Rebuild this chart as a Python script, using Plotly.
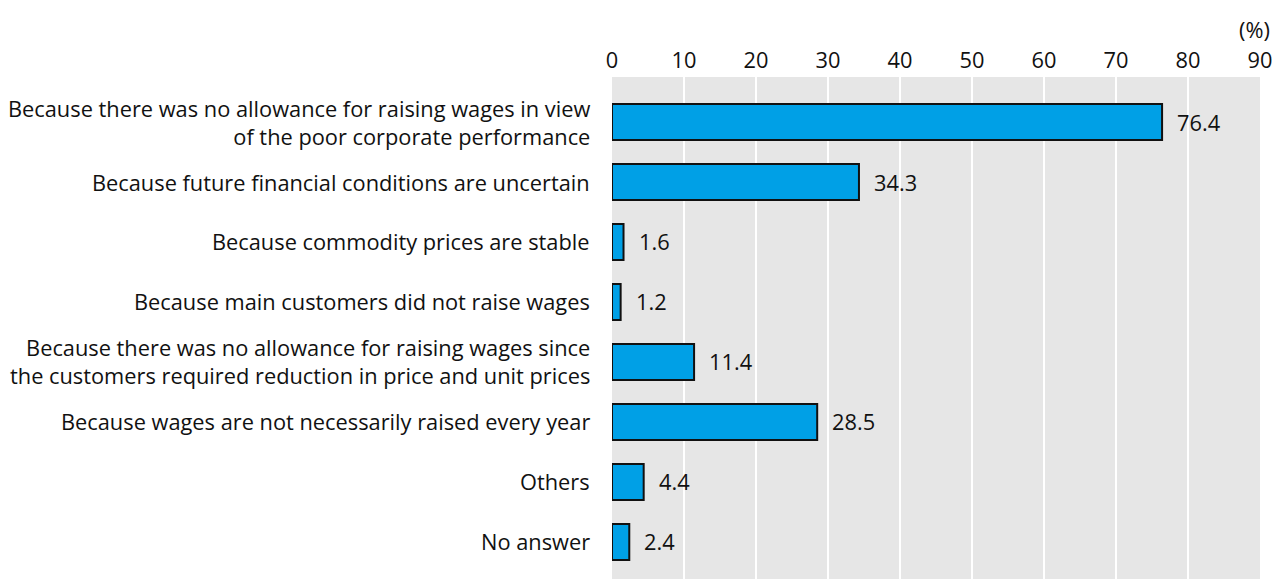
import plotly.graph_objects as go

# Survey: reasons for not raising wages (%)
categories = [
    "Because there was no allowance for raising wages in view\nof the poor corporate performance",
    "Because future financial conditions are uncertain",
    "Because commodity prices are stable",
    "Because main customers did not raise wages",
    "Because there was no allowance for raising wages since\nthe customers required reduction in price and unit prices",
    "Because wages are not necessarily raised every year",
    "Others",
    "No answer",
]
values = [76.4, 34.3, 1.6, 1.2, 11.4, 28.5, 4.4, 2.4]
x_ticks = [0, 10, 20, 30, 40, 50, 60, 70, 80, 90]

FONT = "Open Sans"
FONT_SIZE = 21.8
TEXT_COLOR = "#111111"

fig = go.Figure(
    go.Bar(
        x=values,
        y=categories,
        orientation="h",
        width=0.6,
        marker=dict(color="#00A0E6", line=dict(color="#111111", width=2)),
        hoverinfo="x+y",
    )
)

text_font = dict(family=FONT, size=FONT_SIZE, color=TEXT_COLOR)

# category labels, right-aligned to the left of the plot
for c in categories:
    fig.add_annotation(
        x=0, xref="paper", y=c, yref="y",
        text=c.replace("\n", "<br>"), align="right",
        xanchor="right", yanchor="middle", xshift=-20,
        showarrow=False, font=text_font,
    )

# value labels just right of each bar end
for v, c in zip(values, categories):
    fig.add_annotation(
        x=v, y=c, text=f"{v:.1f}", xanchor="left", yanchor="middle",
        xshift=13, showarrow=False, font=text_font,
    )

# unit label above the axis
fig.add_annotation(
    x=1.0, y=1.0, xref="paper", yref="paper", xanchor="right", yanchor="middle",
    xshift=12, yshift=48, text="(%)", showarrow=False, font=text_font,
)

fig.update_layout(
    width=1274,
    height=579,
    margin=dict(l=612, r=14, t=77, b=0, pad=0),
    paper_bgcolor="white",
    plot_bgcolor="#E6E6E6",
    showlegend=False,
    font=text_font,
    xaxis=dict(
        side="top",
        range=[0, 90],
        tickvals=x_ticks,
        ticktext=[str(t) for t in x_ticks],
        showgrid=True,
        gridcolor="white",
        gridwidth=2,
        zeroline=False,
        showline=False,
        ticks="",
        ticklabelstandoff=4,
        fixedrange=True,
    ),
    yaxis=dict(
        range=[7.617, -0.75],
        showgrid=False,
        zeroline=False,
        showline=False,
        ticks="",
        showticklabels=False,
        fixedrange=True,
    ),
)

fig.write_html("out.html")
